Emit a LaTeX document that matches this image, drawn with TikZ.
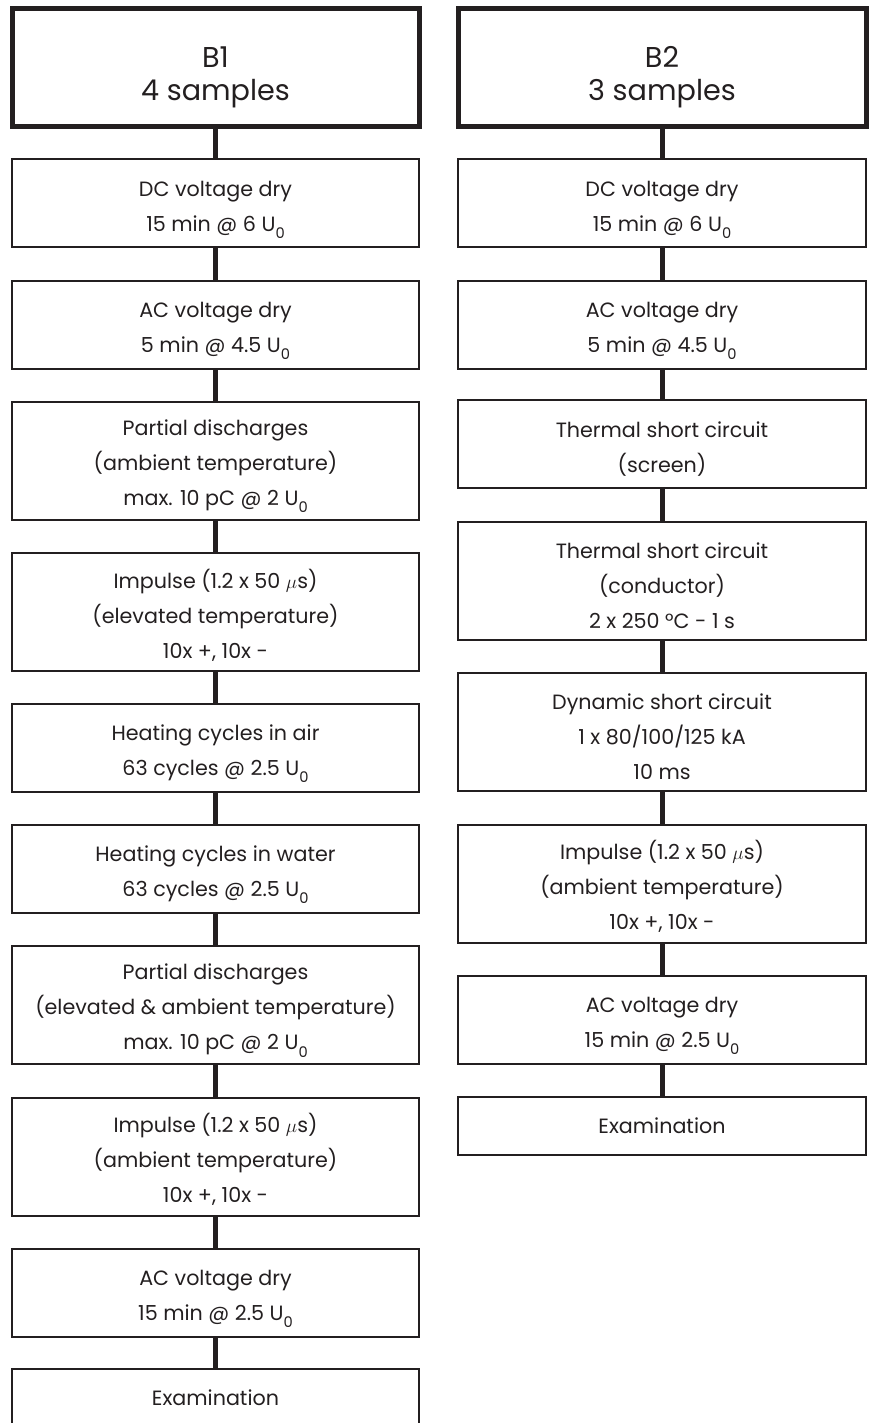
\documentclass[tikz,border=0pt]{standalone}
\usepackage{fontspec}
\setmainfont{Poppins}
\definecolor{ink}{RGB}{35,31,32}
\newcommand{\Uo}{U\smash{\raisebox{-5.5pt}{\fontsize{11pt}{11pt}\selectfont 0}}}
\newcommand{\bst}{\rule{0pt}{19pt}}
\newcommand{\tst}{\rule{0pt}{30pt}}
\begin{document}
\begin{tikzpicture}[x=0.75pt,y=-0.75pt,
  every node/.style={text=ink},
  boxbase/.style={draw=ink,line width=1.5pt,align=center,inner sep=0pt,
    font=\fontsize{15.5pt}{26.25pt}\selectfont},
  twoline/.style={boxbase,minimum height=66pt},
  threeline/.style={boxbase,minimum height=88.5pt},
  oneline/.style={boxbase,minimum height=43.5pt},
  titlebox/.style={draw=ink,line width=3.75pt,align=center,inner sep=0pt,minimum height=89pt,
    font=\fontsize{21.5pt}{25pt}\selectfont},
  lcol/.style={minimum width=305.25pt},
  rcol/.style={minimum width=306pt},
  link/.style={draw=ink,line width=3.75pt}]
\useasboundingbox (0,0) rectangle (870,1423);
% left column
\node[titlebox,lcol] (b1) at (215.5,67.5) {\tst B1\\4 samples};
\node[twoline,lcol] (l1) at (215.5,203.5) {\bst DC voltage dry\\15 min @ 6 \Uo};
\node[twoline,lcol] (l2) at (215.5,324.5) {\bst AC voltage dry\\5 min @ 4.5 \Uo};
\node[threeline,lcol] (l3) at (215.5,460.5) {\bst Partial discharges\\(ambient temperature)\\max. 10 pC @ 2 \Uo};
\node[threeline,lcol] (l4) at (215.5,612) {\bst Impulse (1.2 x 50 $\mu$s)\\(elevated temperature)\\10x +, 10x -};
\node[twoline,lcol] (l5) at (215.5,748) {\bst Heating cycles in air\\63 cycles @ 2.5 \Uo};
\node[twoline,lcol] (l6) at (215.5,869) {\bst Heating cycles in water\\63 cycles @ 2.5 \Uo};
\node[threeline,lcol] (l7) at (215.5,1005) {\bst Partial discharges\\(elevated \& ambient temperature)\\max. 10 pC @ 2 \Uo};
\node[threeline,lcol] (l8) at (215.5,1156.5) {\bst Impulse (1.2 x 50 $\mu$s)\\(ambient temperature)\\10x +, 10x -};
\node[twoline,lcol] (l9) at (215.5,1292.5) {\bst AC voltage dry\\15 min @ 2.5 \Uo};
\node[oneline,lcol] (l10) at (215.5,1398) {Examination};
% right column
\node[titlebox,rcol] (b2) at (662,67.5) {\tst B2\\3 samples};
\node[twoline,rcol] (r1) at (662,203.5) {\bst DC voltage dry\\15 min @ 6 \Uo};
\node[twoline,rcol] (r2) at (662,324.5) {\bst AC voltage dry\\5 min @ 4.5 \Uo};
\node[twoline,rcol] (r3) at (662,444) {\bst Thermal short circuit\\(screen)};
\node[threeline,rcol] (r4) at (662,581) {\bst Thermal short circuit\\(conductor)\\2 x 250 °C - 1 s};
\node[threeline,rcol] (r5) at (662,732) {\bst Dynamic short circuit\\1 x 80/100/125 kA\\10 ms};
\node[threeline,rcol] (r6) at (662,883.5) {\bst Impulse (1.2 x 50 $\mu$s)\\(ambient temperature)\\10x +, 10x -};
\node[twoline,rcol] (r7) at (662,1019.5) {\bst AC voltage dry\\15 min @ 2.5 \Uo};
\node[oneline,rcol] (r8) at (662,1126) {Examination};
% connectors
\foreach \a/\b in {b1/l1,l1/l2,l2/l3,l3/l4,l4/l5,l5/l6,l6/l7,l7/l8,l8/l9,l9/l10,
                   b2/r1,r1/r2,r2/r3,r3/r4,r4/r5,r5/r6,r6/r7,r7/r8}
  \draw[link] (\a.south) -- (\b.north);
\end{tikzpicture}
\end{document}
